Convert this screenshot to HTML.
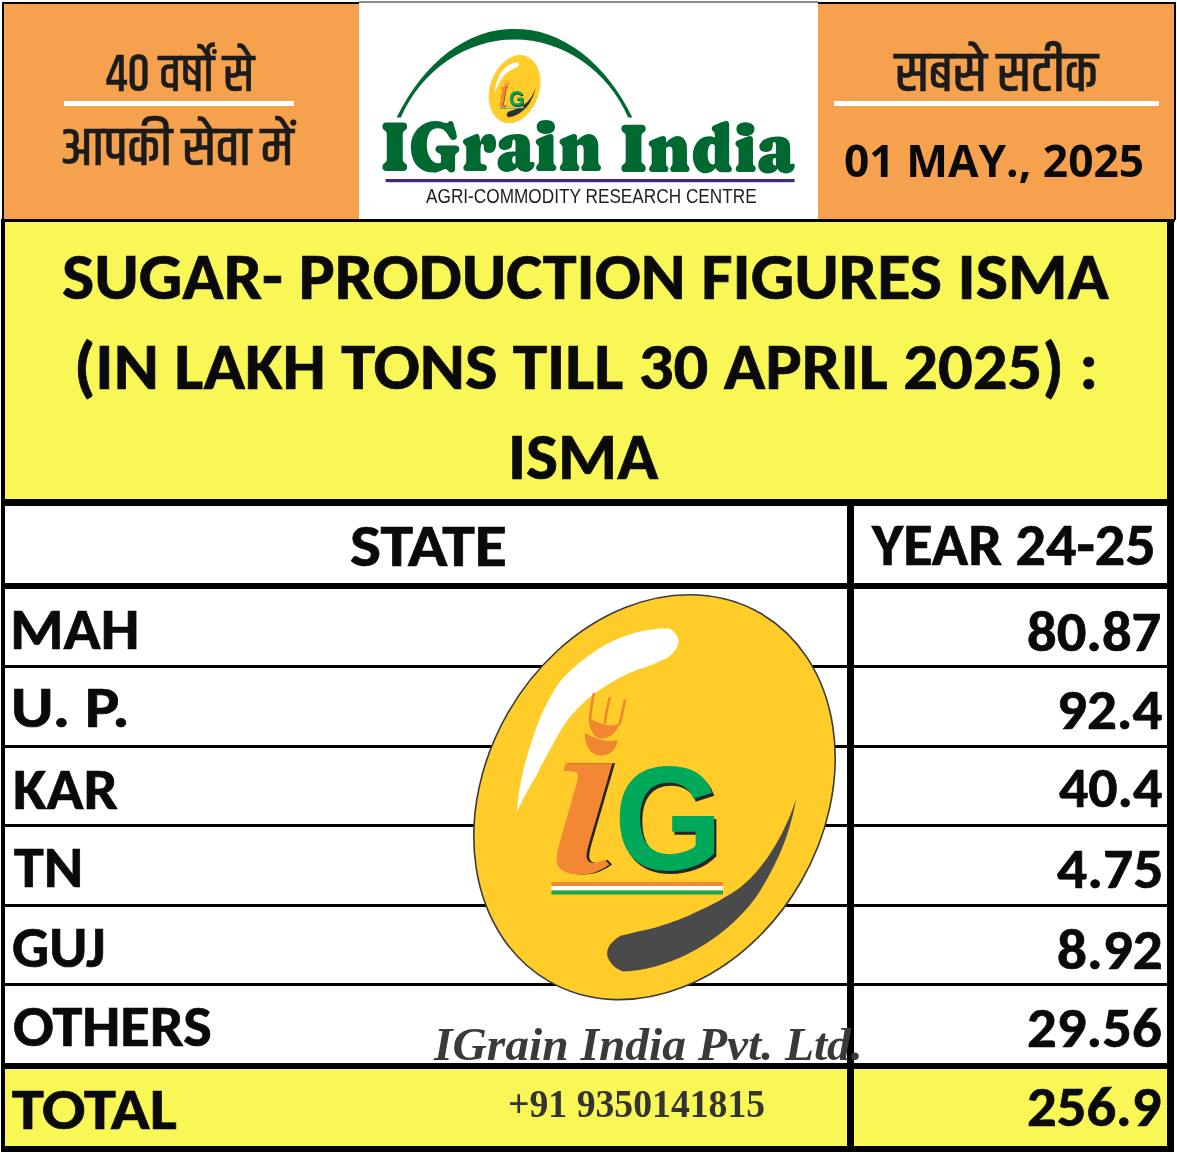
<!DOCTYPE html>
<html lang="en">
<head>
<meta charset="utf-8">
<title>IGrain India - Sugar Production Figures ISMA</title>
<style>
html,body{margin:0;padding:0;background:#fff;}
body{width:1177px;height:1154px;position:relative;overflow:hidden;}
.a{position:absolute;}
.blk{position:absolute;background:#000;}
.t{position:absolute;white-space:nowrap;line-height:1;transform-origin:0 0;}
.cal{font-family:"Carlito","Liberation Sans",sans-serif;font-weight:700;color:#0a0a0a;-webkit-text-stroke:0.7px #0a0a0a;}
.hin{font-family:"Khand","Noto Sans Devanagari","Liberation Sans","Noto Sans CJK SC",sans-serif;font-weight:500;color:#1b1b1b;-webkit-text-stroke:0.5px #1b1b1b;}
.osb{font-family:"Open Sans","Liberation Sans",sans-serif;font-weight:700;color:#0a0a0a;}
.lg_g{font-family:"Liberation Sans",Arial,sans-serif;font-weight:700;color:#00A85A;text-shadow:2.5px 2.5px 0 #262626;}
.lg_i{font-family:"Noto Serif","Liberation Serif","Times New Roman",serif;font-weight:700;font-style:italic;color:#F48733;text-shadow:2px 0 0 #262626;}
.lg_t{font-family:"Caprasimo","Liberation Serif",serif;font-weight:700;font-synthesis:none;color:#006831;}
.lg_s{font-family:"Liberation Sans",Arial,sans-serif;font-weight:400;color:#1e1e1e;}
.pvt{font-family:"Liberation Serif","Times New Roman",serif;font-weight:700;font-style:italic;color:#3a3a3a;}
.ph{font-family:"Liberation Serif","Times New Roman",serif;font-weight:700;color:#333;}
.sm.lg_g{text-shadow:0.6px 0.6px 0 #262626;}
.sm.lg_i{text-shadow:0.5px 0 0 #262626;}
</style>
</head>
<body>
<!-- ===== HEADER ===== -->
<div class="a" style="left:2px;top:2px;width:357px;height:218px;background:#F6A14D"></div>
<div class="a" style="left:818px;top:2px;width:357px;height:218px;background:#F6A14D"></div>
<div class="blk" style="left:2px;top:2px;width:357px;height:2px"></div>
<div class="a" style="left:359px;top:1px;width:459px;height:2px;background:#8c8c8c"></div>
<div class="blk" style="left:818px;top:2px;width:357px;height:2px"></div>
<div class="blk" style="left:2px;top:2px;width:2px;height:218px"></div>
<div class="blk" style="left:1174px;top:2px;width:2px;height:218px"></div>
<div class="blk" style="left:1px;top:219px;width:1174px;height:3px"></div>

<!-- left header text -->
<div class="a" style="left:63.6px;top:101.4px;width:230.2px;height:4.6px;background:#fff"></div>

<!-- right header text -->
<div class="a" style="left:833.6px;top:101.4px;width:325.2px;height:4.6px;background:#fff"></div>

<!-- ===== TITLE ===== -->
<div class="a" style="left:1px;top:222px;width:1172px;height:278px;background:#F9F756"></div>

<!-- ===== TABLE ===== -->
<div class="a" style="left:1px;top:1069px;width:1172px;height:78px;background:#F9F756"></div>
<!-- borders -->
<div class="blk" style="left:1px;top:222px;width:4px;height:930px"></div>
<div class="blk" style="left:1167px;top:222px;width:7px;height:930px"></div>
<div class="blk" style="left:1px;top:499px;width:1173px;height:7px"></div>
<div class="blk" style="left:1px;top:583px;width:1173px;height:6px"></div>
<div class="blk" style="left:1px;top:665px;width:1173px;height:3px"></div>
<div class="blk" style="left:1px;top:745px;width:1173px;height:3px"></div>
<div class="blk" style="left:1px;top:824px;width:1173px;height:3px"></div>
<div class="blk" style="left:1px;top:904px;width:1173px;height:3px"></div>
<div class="blk" style="left:1px;top:983px;width:1173px;height:3px"></div>
<div class="blk" style="left:1px;top:1063px;width:1173px;height:6px"></div>
<div class="blk" style="left:1px;top:1146px;width:1173px;height:6px"></div>
<div class="blk" style="left:847px;top:506px;width:7px;height:640px"></div>

<!-- header row -->

<!-- data rows -->


<svg class="a" style="left:0;top:0" width="1177" height="1154" viewBox="0 0 1177 1154">
<path d="M396.7,117.5 A143.6,207 0 0,1 632.3,117.5 L628.2,117.5 A125.9,136.7 0 0,0 400.8,117.5 Z" fill="#006831"/>
<rect x="385.6" y="179" width="409" height="3.2" fill="#3F2A73"/>
<ellipse cx="0" cy="0" rx="24.2" ry="34.7" transform="translate(514.6 89.2) rotate(18.7)" fill="#FFCC29" stroke="#F2D33A" stroke-width="0.8"/>
<g transform="rotate(10 514.6 89.2) translate(514.6 89.2) rotate(18.7) scale(0.14311 0.16352) rotate(-29.8) translate(-654.5 -797.2)">
<path d="M516.9,812.0 L517.3,807.9 L517.6,803.9 L518.0,799.8 L518.5,795.8 L519.1,791.7 L519.7,787.6 L520.5,783.5 L521.3,779.4 L522.2,775.3 L523.1,771.1 L524.1,767.0 L525.2,762.9 L526.3,758.7 L527.5,754.6 L528.7,750.4 L530.1,746.2 L531.5,742.0 L532.9,737.8 L534.3,733.5 L535.8,729.2 L537.3,724.9 L539.0,720.6 L540.8,716.2 L542.6,712.0 L544.7,707.7 L546.9,703.5 L549.1,699.3 L551.4,695.1 L553.8,690.9 L556.4,686.8 L559.2,682.8 L562.1,679.0 L565.3,675.5 L568.7,672.3 L572.1,669.1 L575.6,666.0 L579.2,663.0 L582.8,660.1 L586.5,657.3 L590.2,654.6 L593.9,652.0 L597.7,649.5 L601.6,647.1 L605.4,644.8 L609.4,642.7 L613.3,640.7 L617.3,639.0 L621.4,637.3 L625.4,635.9 L629.5,634.5 L633.5,633.3 L637.6,632.3 L641.6,631.3 L645.7,630.4 L649.7,629.7 L653.7,629.2 L657.7,628.8 L661.7,628.5 L665.6,628.4 L669.6,628.4 L672.7,630.8 L675.1,633.3 L676.9,635.8 L678.0,638.4 L678.5,641.1 L678.2,643.8 L677.3,646.5 L675.7,649.4 L673.5,652.2 L670.5,655.2 L666.9,658.2 L663.6,659.6 L660.3,661.0 L657.1,662.5 L653.9,663.9 L650.7,665.2 L647.6,666.4 L644.4,667.4 L641.3,668.4 L638.1,669.5 L635.0,670.7 L631.9,672.0 L628.8,673.3 L625.7,674.7 L622.7,676.2 L619.6,677.8 L616.6,679.5 L613.6,681.3 L610.6,683.0 L607.6,684.8 L604.7,686.7 L601.7,688.6 L598.8,690.6 L595.8,692.6 L592.9,694.8 L590.1,697.0 L587.3,699.3 L584.6,701.8 L581.9,704.3 L579.2,706.9 L576.6,709.5 L574.1,712.2 L571.6,715.1 L569.2,718.0 L566.9,721.0 L564.8,724.1 L562.7,727.2 L560.7,730.5 L558.8,733.7 L557.0,737.0 L555.1,740.3 L553.3,743.6 L551.5,746.9 L549.6,750.2 L547.8,753.5 L546.0,756.8 L544.2,760.2 L542.4,763.5 L540.6,767.0 L538.9,770.4 L537.2,773.9 L535.3,777.4 L533.2,781.0 L531.1,784.6 L529.0,788.2 L526.8,792.0 L524.8,795.8 L522.8,799.7 L520.9,803.7 L518.9,807.8 L516.9,812.0 Z" fill="#fff"/>
<path d="M796.1,798.7 L795.3,802.9 L794.5,807.2 L793.6,811.4 L792.6,815.7 L791.5,819.9 L790.3,824.1 L789.1,828.4 L787.8,832.6 L786.4,836.8 L784.9,841.0 L783.3,845.1 L781.6,849.3 L779.9,853.4 L778.0,857.6 L776.1,861.6 L774.1,865.7 L772.0,869.7 L769.9,873.8 L767.8,877.8 L765.5,881.8 L763.2,885.8 L760.8,889.8 L758.3,893.6 L755.7,897.5 L752.9,901.2 L750.1,904.8 L747.1,908.3 L744.0,911.7 L740.9,915.0 L737.6,918.3 L734.4,921.4 L731.0,924.5 L727.6,927.5 L724.1,930.4 L720.6,933.2 L717.0,935.9 L713.4,938.5 L709.8,941.0 L706.1,943.5 L702.3,945.8 L698.6,948.1 L694.8,950.2 L690.9,952.3 L687.1,954.3 L683.2,956.2 L679.2,957.9 L675.3,959.6 L671.3,961.2 L667.3,962.6 L663.3,964.0 L659.3,965.3 L655.3,966.4 L651.3,967.4 L647.2,968.4 L643.2,969.2 L639.1,969.9 L635.1,970.5 L631.0,970.9 L627.0,971.3 L622.9,971.5 L615.9,968.1 L612.4,964.7 L609.7,961.3 L608.0,958.0 L607.1,954.7 L607.2,951.4 L608.1,948.2 L609.8,945.0 L612.5,941.9 L616.1,938.8 L620.5,935.8 L623.8,935.0 L627.2,934.2 L630.5,933.4 L633.7,932.5 L636.9,931.8 L640.1,931.1 L643.2,930.5 L646.4,929.8 L649.5,929.0 L652.6,928.2 L655.7,927.4 L658.8,926.5 L661.9,925.5 L665.0,924.5 L668.1,923.5 L671.2,922.4 L674.3,921.3 L677.3,920.2 L680.4,919.0 L683.5,917.8 L686.6,916.5 L689.7,915.2 L692.7,913.8 L695.8,912.3 L698.9,910.8 L702.0,909.3 L705.2,907.9 L708.4,906.3 L711.6,904.8 L714.8,903.1 L718.0,901.4 L721.2,899.6 L724.4,897.6 L727.6,895.7 L730.9,893.7 L734.2,891.6 L737.4,889.4 L740.6,887.0 L743.7,884.5 L746.7,881.8 L749.7,879.0 L752.5,876.0 L755.3,873.0 L758.0,869.9 L760.7,866.6 L763.2,863.3 L765.7,859.9 L768.1,856.5 L770.5,852.9 L772.8,849.3 L775.0,845.7 L777.2,842.0 L779.3,838.2 L781.3,834.4 L783.3,830.5 L785.2,826.6 L787.0,822.6 L788.8,818.6 L790.5,814.5 L792.0,810.4 L793.6,806.3 L795.0,802.1 Z" fill="#2E2E2E"/>
</g>
<g transform="translate(511.5 93.7) scale(0.14) translate(-637 -794)">
<g fill="#F28530"><path d="M584.7,733 C585,748 592,755.5 601,755.5 C611,755.5 617,748 617.5,740 C611,742 606,741 601,739.5 C595,738 589,735 584.7,733 Z"/><path d="M589,718.5 C589,731 595,738.5 601.5,738.5 C610,738.5 617,732 619.5,723.5 C613,726 607,726 602,724 C597,722 592,720 589,718.5 Z"/></g>
<g fill="none" stroke="#F28530" stroke-width="5" stroke-linecap="round"><path d="M593.7,694 C592,703 590.5,711 590,720"/><path d="M609.6,698 C607.5,707 605.8,715 604.8,723"/><path d="M624.9,700.5 C623,710 621.5,717 619.6,724"/></g>
<rect x="551.4" y="882" width="171.6" height="6" fill="#F48733"/>
<rect x="551.4" y="888" width="171.6" height="6" fill="#fff"/>
<rect x="551.4" y="894" width="171.6" height="6" fill="#1FA64A"/>
</g>
<g id="lg">
<ellipse cx="0" cy="0" rx="169.1" ry="212.2" transform="translate(654.5 797.2) rotate(29.8)" fill="#FFCC29" stroke="#3a3a3a" stroke-width="1.6"/>
<path d="M516.9,812.0 L517.3,807.9 L517.6,803.9 L518.0,799.8 L518.5,795.8 L519.1,791.7 L519.7,787.6 L520.5,783.5 L521.3,779.4 L522.2,775.3 L523.1,771.1 L524.1,767.0 L525.2,762.9 L526.3,758.7 L527.5,754.6 L528.7,750.4 L530.1,746.2 L531.5,742.0 L532.9,737.8 L534.3,733.5 L535.8,729.2 L537.3,724.9 L539.0,720.6 L540.8,716.2 L542.6,712.0 L544.7,707.7 L546.9,703.5 L549.1,699.3 L551.4,695.1 L553.8,690.9 L556.4,686.8 L559.2,682.8 L562.1,679.0 L565.3,675.5 L568.7,672.3 L572.1,669.1 L575.6,666.0 L579.2,663.0 L582.8,660.1 L586.5,657.3 L590.2,654.6 L593.9,652.0 L597.7,649.5 L601.6,647.1 L605.4,644.8 L609.4,642.7 L613.3,640.7 L617.3,639.0 L621.4,637.3 L625.4,635.9 L629.5,634.5 L633.5,633.3 L637.6,632.3 L641.6,631.3 L645.7,630.4 L649.7,629.7 L653.7,629.2 L657.7,628.8 L661.7,628.5 L665.6,628.4 L669.6,628.4 L672.7,630.8 L675.1,633.3 L676.9,635.8 L678.0,638.4 L678.5,641.1 L678.2,643.8 L677.3,646.5 L675.7,649.4 L673.5,652.2 L670.5,655.2 L666.9,658.2 L663.6,659.6 L660.3,661.0 L657.1,662.5 L653.9,663.9 L650.7,665.2 L647.6,666.4 L644.4,667.4 L641.3,668.4 L638.1,669.5 L635.0,670.7 L631.9,672.0 L628.8,673.3 L625.7,674.7 L622.7,676.2 L619.6,677.8 L616.6,679.5 L613.6,681.3 L610.6,683.0 L607.6,684.8 L604.7,686.7 L601.7,688.6 L598.8,690.6 L595.8,692.6 L592.9,694.8 L590.1,697.0 L587.3,699.3 L584.6,701.8 L581.9,704.3 L579.2,706.9 L576.6,709.5 L574.1,712.2 L571.6,715.1 L569.2,718.0 L566.9,721.0 L564.8,724.1 L562.7,727.2 L560.7,730.5 L558.8,733.7 L557.0,737.0 L555.1,740.3 L553.3,743.6 L551.5,746.9 L549.6,750.2 L547.8,753.5 L546.0,756.8 L544.2,760.2 L542.4,763.5 L540.6,767.0 L538.9,770.4 L537.2,773.9 L535.3,777.4 L533.2,781.0 L531.1,784.6 L529.0,788.2 L526.8,792.0 L524.8,795.8 L522.8,799.7 L520.9,803.7 L518.9,807.8 L516.9,812.0 Z" fill="#fff"/>
<path d="M796.1,798.7 L795.3,802.9 L794.5,807.2 L793.6,811.4 L792.6,815.7 L791.5,819.9 L790.3,824.1 L789.1,828.4 L787.8,832.6 L786.4,836.8 L784.9,841.0 L783.3,845.1 L781.6,849.3 L779.9,853.4 L778.0,857.6 L776.1,861.6 L774.1,865.7 L772.0,869.7 L769.9,873.8 L767.8,877.8 L765.5,881.8 L763.2,885.8 L760.8,889.8 L758.3,893.6 L755.7,897.5 L752.9,901.2 L750.1,904.8 L747.1,908.3 L744.0,911.7 L740.9,915.0 L737.6,918.3 L734.4,921.4 L731.0,924.5 L727.6,927.5 L724.1,930.4 L720.6,933.2 L717.0,935.9 L713.4,938.5 L709.8,941.0 L706.1,943.5 L702.3,945.8 L698.6,948.1 L694.8,950.2 L690.9,952.3 L687.1,954.3 L683.2,956.2 L679.2,957.9 L675.3,959.6 L671.3,961.2 L667.3,962.6 L663.3,964.0 L659.3,965.3 L655.3,966.4 L651.3,967.4 L647.2,968.4 L643.2,969.2 L639.1,969.9 L635.1,970.5 L631.0,970.9 L627.0,971.3 L622.9,971.5 L615.9,968.1 L612.4,964.7 L609.7,961.3 L608.0,958.0 L607.1,954.7 L607.2,951.4 L608.1,948.2 L609.8,945.0 L612.5,941.9 L616.1,938.8 L620.5,935.8 L623.8,935.0 L627.2,934.2 L630.5,933.4 L633.7,932.5 L636.9,931.8 L640.1,931.1 L643.2,930.5 L646.4,929.8 L649.5,929.0 L652.6,928.2 L655.7,927.4 L658.8,926.5 L661.9,925.5 L665.0,924.5 L668.1,923.5 L671.2,922.4 L674.3,921.3 L677.3,920.2 L680.4,919.0 L683.5,917.8 L686.6,916.5 L689.7,915.2 L692.7,913.8 L695.8,912.3 L698.9,910.8 L702.0,909.3 L705.2,907.9 L708.4,906.3 L711.6,904.8 L714.8,903.1 L718.0,901.4 L721.2,899.6 L724.4,897.6 L727.6,895.7 L730.9,893.7 L734.2,891.6 L737.4,889.4 L740.6,887.0 L743.7,884.5 L746.7,881.8 L749.7,879.0 L752.5,876.0 L755.3,873.0 L758.0,869.9 L760.7,866.6 L763.2,863.3 L765.7,859.9 L768.1,856.5 L770.5,852.9 L772.8,849.3 L775.0,845.7 L777.2,842.0 L779.3,838.2 L781.3,834.4 L783.3,830.5 L785.2,826.6 L787.0,822.6 L788.8,818.6 L790.5,814.5 L792.0,810.4 L793.6,806.3 L795.0,802.1 Z" fill="#4A4A4A"/>
<g fill="#F28530" stroke="none">
<path d="M584.7,733 C585,748 592,755.5 601,755.5 C611,755.5 617,748 617.5,740 C611,742 606,741 601,739.5 C595,738 589,735 584.7,733 Z"/>
<path d="M589,718.5 C589,731 595,738.5 601.5,738.5 C610,738.5 617,732 619.5,723.5 C613,726 607,726 602,724 C597,722 592,720 589,718.5 Z"/>
</g>
<g fill="none" stroke="#F28530" stroke-width="2.6" stroke-linecap="round">
<path d="M593.7,694 C592,703 590.5,711 590,720"/>
<path d="M609.6,698 C607.5,707 605.8,715 604.8,723"/>
<path d="M624.9,700.5 C623,710 621.5,717 619.6,724"/>
</g>
<rect x="551.4" y="882" width="171.6" height="4" fill="#F48733"/>
<rect x="551.4" y="886" width="171.6" height="4.5" fill="#fff"/>
<rect x="551.4" y="890.5" width="171.6" height="4" fill="#1FA64A"/>
</g>
</svg>
<div class="t hin" id="h1" style="left:106.2px;top:49.9px;font-size:53.55px;transform:scaleX(0.9359);--sx:0.9359;--nw:158.00">40 वर्षों से</div>
<div class="t hin" id="h2" style="left:59.7px;top:122.7px;font-size:54.75px;transform:scaleX(0.9987);--sx:0.9987;--nw:234.00">आपकी सेवा में</div>
<div class="t hin" id="h3" style="left:895.4px;top:48.0px;font-size:55.70px;transform:scaleX(0.9914);--sx:0.9914;--nw:204.00">सबसे सटीक</div>
<div class="t osb" id="h4" style="left:844.1px;top:136.9px;font-size:45.14px;transform:scaleX(0.9815);--sx:0.9815;--nw:306.00">01 MAY., 2025</div>
<div class="t cal" id="t1" style="left:61.6px;top:243.0px;font-size:67.00px;transform:scaleX(1.0186);--sx:1.0186;--nw:1028.00">SUGAR- PRODUCTION FIGURES ISMA</div>
<div class="t cal" id="t2" style="left:74.1px;top:332.8px;font-size:67.00px;transform:scaleX(1.0240);--sx:1.0240;--nw:1000.00">(IN LAKH TONS TILL 30 APRIL 2025) :</div>
<div class="t cal" id="t3" style="left:508.2px;top:422.9px;font-size:67.00px;transform:scaleX(1.0107);--sx:1.0107;--nw:149.00">ISMA</div>
<div class="t cal" id="hs" style="left:350.4px;top:515.9px;font-size:60.00px;transform:scaleX(1.0938);--sx:1.0938;--nw:143.00">STATE</div>
<div class="t cal" id="hy" style="left:871.5px;top:515.4px;font-size:60.00px;transform:scaleX(1.0011);--sx:1.0011;--nw:283.00">YEAR 24-25</div>
<div class="t cal" id="l1" style="left:10.3px;top:598.5px;font-size:59.60px;transform:scaleX(1.0279);--sx:1.0279;--nw:126.00">MAH</div>
<div class="t cal" id="l2" style="left:11.1px;top:677.4px;font-size:59.60px;transform:scaleX(1.0938);--sx:1.0938;--nw:109.00">U. P.</div>
<div class="t cal" id="l3" style="left:12.5px;top:758.9px;font-size:59.60px;transform:scaleX(1.0255);--sx:1.0255;--nw:102.00">KAR</div>
<div class="t cal" id="l4" style="left:13.7px;top:837.0px;font-size:59.60px;transform:scaleX(1.0069);--sx:1.0069;--nw:69.00">TN</div>
<div class="t cal" id="l5" style="left:11.8px;top:916.5px;font-size:59.60px;transform:scaleX(0.9784);--sx:0.9784;--nw:96.00">GUJ</div>
<div class="t cal" id="l6" style="left:12.8px;top:996.3px;font-size:59.60px;transform:scaleX(1.0119);--sx:1.0119;--nw:196.00">OTHERS</div>
<div class="t cal" id="l7" style="left:12.3px;top:1079.0px;font-size:59.60px;transform:scaleX(1.0777);--sx:1.0777;--nw:153.00">TOTAL</div>
<div class="t cal" id="r1" style="left:1027.0px;top:605.1px;font-size:55.90px;transform:scaleX(1.0467);--sx:1.0467;--nw:128.00">80.87</div>
<div class="t cal" id="r2" style="left:1056.7px;top:682.9px;font-size:55.90px;transform:scaleX(1.0552);--sx:1.0552;--nw:100.00">92.4</div>
<div class="t cal" id="r3" style="left:1058.7px;top:760.6px;font-size:55.90px;transform:scaleX(1.0345);--sx:1.0345;--nw:100.00">40.4</div>
<div class="t cal" id="r4" style="left:1057.2px;top:842.1px;font-size:55.90px;transform:scaleX(1.0649);--sx:1.0649;--nw:100.00">4.75</div>
<div class="t cal" id="r5" style="left:1057.0px;top:923.3px;font-size:55.90px;transform:scaleX(1.0566);--sx:1.0566;--nw:100.00">8.92</div>
<div class="t cal" id="r6" style="left:1027.1px;top:1000.8px;font-size:55.90px;transform:scaleX(1.0499);--sx:1.0499;--nw:128.00">29.56</div>
<div class="t cal" id="r7" style="left:1027.1px;top:1080.3px;font-size:55.90px;transform:scaleX(1.0483);--sx:1.0483;--nw:128.00">256.9</div>
<div class="t lg_g" id="gG" style="left:614.4px;top:745.2px;font-size:147.98px;transform:scaleX(0.9457);--sx:0.9457;--nw:115.00">G</div>
<div class="t lg_i" id="gi" style="left:546.9px;top:746.1px;font-size:143.89px;transform:scaleX(1.3463);--sx:1.3463;--nw:51.00">l</div>
<div class="t lg_t" id="w1" style="left:381.2px;top:111.0px;font-size:72.24px;transform:scaleX(0.9208);--sx:0.9208;--nw:240.00">IGrain</div>
<div class="t lg_t" id="w2" style="left:620.1px;top:113.1px;font-size:70.13px;transform:scaleX(0.9344);--sx:0.9344;--nw:186.00">India</div>
<div class="t lg_s" id="w3" style="left:425.5px;top:184.8px;font-size:21.11px;transform:scaleX(0.8158);--sx:0.8158;--nw:405.00">AGRI-COMMODITY RESEARCH CENTRE</div>
<div class="t lg_g sm" id="sG" style="left:508.5px;top:87.5px;font-size:21.93px;transform:scaleX(0.9121);--sx:0.9121;--nw:17.00">G</div>
<div class="t lg_i sm" id="si" style="left:498.8px;top:83.6px;font-size:27.00px;transform:scaleX(0.7996);--sx:0.7996;--nw:10.00">l</div>
<div class="t pvt" id="p1" style="left:433.5px;top:1021.0px;font-size:46.76px;transform:scaleX(1.0157);--sx:1.0157;--nw:422.00">IGrain India Pvt. Ltd.</div>
<div class="t ph" id="p2" style="left:508.4px;top:1084.3px;font-size:40.80px;transform:scaleX(0.9244);--sx:0.9244;--nw:278.00">+91 9350141815</div>
<script>
(function(){
  var els=document.querySelectorAll('.t');
  for(var i=0;i<els.length;i++){
    var e=els[i];
    var nw=parseFloat(e.style.getPropertyValue('--nw'));
    var sx=parseFloat(e.style.getPropertyValue('--sx'));
    if(!nw||!sx) continue;
    var w=e.offsetWidth;
    if(w>0 && Math.abs(w-nw)>0.75){ e.style.transform='scaleX('+(sx*nw/w).toFixed(4)+')'; }
  }
})();
</script>
</body>
</html>
